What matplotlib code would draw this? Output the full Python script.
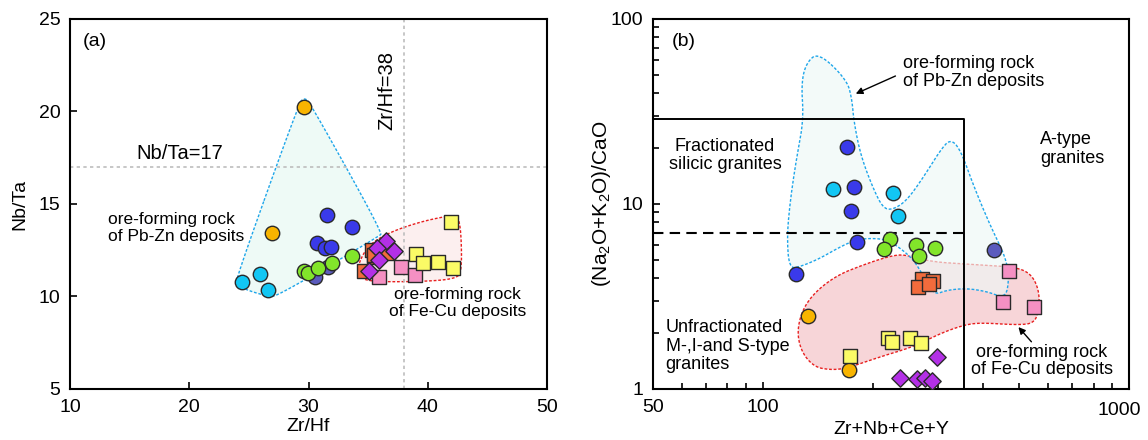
import numpy as np
import matplotlib
matplotlib.use("Agg")
import matplotlib.pyplot as plt

plt.rcParams['font.family'] = ['Liberation Sans', 'DejaVu Sans']
plt.rcParams['mathtext.default'] = 'regular'

# ---- panel (a): Zr/Hf vs Nb/Ta ----
orange_a_x = [29.65, 26.94]
orange_a_y = [20.26, 13.42]
blue_a_x = [31.52, 33.62, 30.69, 31.41, 31.89]
blue_a_y = [14.41, 13.77, 12.91, 12.60, 12.69]
slate_a_x = [30.55, 31.66]
slate_a_y = [11.07, 11.61]
cyan_a_x = [24.45, 25.93, 26.58]
cyan_a_y = [10.80, 11.22, 10.35]
green_a_x = [29.62, 29.98, 30.82, 31.99, 33.62]
green_a_y = [11.39, 11.25, 11.52, 11.79, 12.19]
ored_a_x = [35.29, 35.49, 35.5, 36.69, 34.65]
ored_a_y = [12.50, 12.12, 12.25, 12.37, 11.40]
pink_a_x = [35.94, 37.76, 38.96]
pink_a_y = [11.04, 11.58, 11.14]
yellow_a_x = [41.95, 38.99, 39.63, 40.83, 42.12]
yellow_a_y = [14.04, 12.30, 11.83, 11.88, 11.52]
magenta_a_x = [36.47, 35.77, 37.17, 35.88, 35.07]
magenta_a_y = [13.00, 12.60, 12.46, 11.97, 11.39]

pbzn_env_a = [(23.98, 11.07), (29.2, 20.45), (29.65, 20.75), (30.15, 20.45),
              (36.2, 13.45), (35.9, 13.25), (27.47, 10.05), (26.63, 10.0),
              (24.8, 10.35), (24.0, 10.65)]
fecu_env_a = [(34.04, 11.52), (34.88, 12.69), (36.56, 13.41), (39.35, 14.04),
              (42.14, 14.41), (42.56, 14.3), (42.8, 13.41), (42.85, 11.43),
              (42.43, 10.95), (39.35, 10.8), (35.16, 10.8), (34.26, 11.07)]

# ---- panel (b): Zr+Nb+Ce+Y vs (Na2O+K2O)/CaO ----
blue_b_x = [169.8, 177.4, 174.4, 181.2, 123.1]
blue_b_y = [20.25, 12.4, 9.2, 6.21, 4.2]
slate_b_x = [428.8]
slate_b_y = [5.62]
cyan_b_x = [155.6, 226.9, 234.6]
cyan_b_y = [12.0, 11.42, 8.65]
green_b_x = [222.6, 214.4, 261.2, 266.7, 294.3]
green_b_y = [6.5, 5.71, 5.98, 5.24, 5.81]
orange_b_x = [133.0, 172.2]
orange_b_y = [2.47, 1.267]
ored_b_x = [272.4, 292.0, 265.6, 284.0]
ored_b_y = [3.92, 3.82, 3.57, 3.68]
pink_b_x = [471.3, 451.8, 550.0]
pink_b_y = [4.36, 2.95, 2.77]
yellow_b_x = [172.6, 219.9, 224.9, 252.4, 270.0]
yellow_b_y = [1.508, 1.887, 1.80, 1.88, 1.773]
magenta_b_x = [299.3, 236.6, 263.9, 276.9, 290.0]
magenta_b_y = [1.495, 1.142, 1.13, 1.151, 1.109]

pbzn_env_b = [(141.9, 66.0), (169.8, 46.8), (175.2, 36.5), (177, 28.4), (184.7, 18.4),
              (200.8, 11.9), (213.8, 9.40), (227.8, 9.36), (247.8, 10.5), (275.1, 14.05),
              (305.6, 19.6), (325.6, 22.5), (346.7, 19.6), (377, 12.4), (419, 7.54),
              (455.4, 5.41), (470, 4.22), (465, 3.29), (446, 3.155), (410, 3.36),
              (361.7, 3.50), (318.9, 3.43), (293, 3.22), (275.1, 4.05), (258.3, 4.98),
              (237.6, 5.76), (218.5, 6.39), (200.8, 6.53), (180.8, 6.44), (162.8, 5.88),
              (143.5, 5.09), (126.5, 4.58), (118, 4.49), (116.3, 6.66), (118.8, 10.5),
              (123.3, 17.3), (129.2, 28.4), (127.3, 44.9), (131.4, 58.0)]
fecu_env_b = [(123.9, 2.172), (132, 3.03), (156, 4.05), (192.6, 4.78), (227.8, 5.30),
              (247.8, 5.30), (287, 4.88), (354, 4.74), (485, 4.58), (539, 4.22),
              (568, 3.43), (568, 2.67), (550, 2.265), (495.6, 2.218), (393, 2.283),
              (354, 2.218), (305.6, 2.0), (258.3, 1.693), (209.4, 1.495), (169.8, 1.294),
              (152.8, 1.267), (137.5, 1.32), (126.5, 1.625)]

box_x = 354
box_top = 28.7
dash_y = 7.0

C_ORANGE = '#f8b400'
C_BLUE = '#3a3aea'
C_SLATE = '#5b5bbd'
C_CYAN = '#12c6f3'
C_GREEN = '#82e52a'
C_ORED = '#f26b3c'
C_PINK = '#f590c3'
C_YELLOW = '#fbfb66'
C_MAG = '#b330e6'
EDGE = '#2a2a2a'


def chaikin(pts, n=3, log=False):
    p = np.asarray(pts, float)
    if log:
        p = np.log10(p)
    for _ in range(n):
        q = np.roll(p, -1, axis=0)
        new = np.empty((2 * len(p), 2))
        new[0::2] = 0.75 * p + 0.25 * q
        new[1::2] = 0.25 * p + 0.75 * q
        p = new
    p = np.vstack([p, p[:1]])
    if log:
        p = 10 ** p
    return p


def envelope(ax, pts, face, edge, alpha=1.0, log=False, z=1):
    c = chaikin(pts, 3, log)
    ax.fill(c[:, 0], c[:, 1], color=face, alpha=alpha, lw=0, zorder=z)
    ax.plot(c[:, 0], c[:, 1], color=edge, lw=1.0, ls=(0, (2, 1.3)), zorder=z + 0.1)


def dots(ax, x, y, color, marker='o', s=108):
    ax.scatter(x, y, s=s, c=color, marker=marker, edgecolors=EDGE, linewidths=1.0, zorder=5)


def style(ax):
    for sp in ax.spines.values():
        sp.set_linewidth(1.5)
    ax.tick_params(which='both', direction='in', labelsize=14, width=1.2)
    ax.tick_params(which='major', length=5, pad=7)
    ax.tick_params(which='minor', length=4)


fig = plt.figure(figsize=(11.48, 4.4), dpi=100)
ax1 = fig.add_axes([0.06098, 0.11591, 0.41551, 0.84091])
ax2 = fig.add_axes([0.56855, 0.11591, 0.41490, 0.84091])

# panel (a)
envelope(ax1, pbzn_env_a, '#eefaf6', '#1ea6ea', z=1)
envelope(ax1, fecu_env_a, '#fcefef', '#e82020', z=1.5)
ax1.axhline(17, color='#bdbdbd', lw=1.2, ls=(0, (2, 2)), zorder=2)
ax1.axvline(38, color='#bdbdbd', lw=1.2, ls=(0, (2, 2)), zorder=2)

dots(ax1, cyan_a_x, cyan_a_y, C_CYAN)
dots(ax1, slate_a_x, slate_a_y, C_SLATE)
dots(ax1, green_a_x, green_a_y, C_GREEN)
dots(ax1, blue_a_x, blue_a_y, C_BLUE)
dots(ax1, orange_a_x, orange_a_y, C_ORANGE)
dots(ax1, ored_a_x, ored_a_y, C_ORED, 's', 100)
dots(ax1, pink_a_x, pink_a_y, C_PINK, 's', 100)
dots(ax1, yellow_a_x, yellow_a_y, C_YELLOW, 's', 100)
dots(ax1, magenta_a_x, magenta_a_y, C_MAG, 'D', 78)

ax1.set_xlim(10, 50)
ax1.set_ylim(5, 25)
ax1.set_xticks(range(10, 51, 10))
ax1.set_yticks(range(5, 26, 5))
style(ax1)
ax1.set_xlabel('Zr/Hf', fontsize=14)
ax1.set_ylabel('Nb/Ta', fontsize=14)
ax1.xaxis.set_label_coords(0.5, -0.101)
ax1.xaxis.label.set_va('center')
ax1.yaxis.set_label_coords(-0.105, 0.5)
ax1.yaxis.label.set_va('center')

ax1.text(0.027, 0.938, '(a)', transform=ax1.transAxes, fontsize=14, va='center')
ax1.text(15.6, 17.75, 'Nb/Ta=17', fontsize=14.5, va='center')
ax1.text(36.56, 21.16, 'Zr/Hf=38', fontsize=14.5, va='center', ha='center', rotation=90)
ax1.text(13.16, 13.7, 'ore-forming rock\nof Pb-Zn deposits', fontsize=12.5,
         va='center', linespacing=1.1)
ax1.text(42.5, 9.65, 'ore-forming rock\nof Fe-Cu deposits', fontsize=12.5,
         va='center', ha='center', linespacing=1.1)

# panel (b)
ax2.set_xscale('log')
ax2.set_yscale('log')
envelope(ax2, fecu_env_b, '#f7d5d8', '#e82020', log=True, z=1)
envelope(ax2, pbzn_env_b, '#eef8f6', '#1ea6ea', alpha=0.65, log=True, z=1.5)
ax2.plot([50, box_x, box_x], [box_top, box_top, 1], color='black', lw=1.4, zorder=3)
ax2.plot([50, box_x], [dash_y, dash_y], color='black', lw=1.5, ls=(0, (5, 3)), zorder=3)

dots(ax2, blue_b_x, blue_b_y, C_BLUE)
dots(ax2, slate_b_x, slate_b_y, C_SLATE)
dots(ax2, cyan_b_x, cyan_b_y, C_CYAN)
dots(ax2, green_b_x, green_b_y, C_GREEN)
dots(ax2, orange_b_x, orange_b_y, C_ORANGE)
dots(ax2, ored_b_x, ored_b_y, C_ORED, 's', 100)
dots(ax2, pink_b_x, pink_b_y, C_PINK, 's', 100)
dots(ax2, yellow_b_x, yellow_b_y, C_YELLOW, 's', 100)
dots(ax2, magenta_b_x, magenta_b_y, C_MAG, 'D', 78)

ax2.set_xlim(50, 1000)
ax2.set_ylim(1, 100)
ax2.set_xticks([50, 100, 1000])
ax2.set_xticklabels(['50', '100', ''])
ax2.set_xticks([60, 70, 80, 90] + list(range(200, 1000, 100)), minor=True)
ax2.set_yticks([1, 10, 100])
ax2.set_yticklabels(['1', '10', '100'])
ax2.set_yticks(list(range(2, 10)) + list(range(20, 100, 10)), minor=True)
ax2.xaxis.set_minor_formatter(matplotlib.ticker.NullFormatter())
ax2.yaxis.set_minor_formatter(matplotlib.ticker.NullFormatter())
style(ax2)
# last x tick label nudged left so it stays inside the figure
ax2.annotate('1000', xy=(1000, 1), xycoords='data', xytext=(-7, -9.5),
             textcoords='offset points', ha='center', va='top', fontsize=14)
ax2.set_xlabel('Zr+Nb+Ce+Y', fontsize=14)
ax2.set_ylabel('(Na$_2$O+K$_2$O)/CaO', fontsize=15)
ax2.xaxis.set_label_coords(0.5, -0.109)
ax2.xaxis.label.set_va('center')
ax2.yaxis.set_label_coords(-0.1065, 0.5)
ax2.yaxis.label.set_va('center')

ax2.text(0.04, 0.938, '(b)', transform=ax2.transAxes, fontsize=14, va='center')
ax2.text(0.525, 0.855, 'ore-forming rock\nof Pb-Zn deposits', transform=ax2.transAxes,
         fontsize=13, va='center', linespacing=1.1)
ax2.annotate('', xy=(0.421, 0.795), xytext=(0.515, 0.849), xycoords='axes fraction',
             arrowprops=dict(arrowstyle='-|>', color='black', lw=1.0, mutation_scale=10))
ax2.text(0.8136, 0.6486, 'A-type\ngranites', transform=ax2.transAxes, fontsize=13,
         va='center', linespacing=1.1)
ax2.text(0.1518, 0.631, 'Fractionated\nsilicic granites', transform=ax2.transAxes,
         fontsize=13, va='center', ha='center', linespacing=1.1)
ax2.text(0.0273, 0.116, 'Unfractionated\nM-,I-and S-type\ngranites', transform=ax2.transAxes,
         fontsize=13, va='center', linespacing=1.1)
ax2.text(0.8173, 0.0757, 'ore-forming rock\nof Fe-Cu deposits', transform=ax2.transAxes,
         fontsize=13, va='center', ha='center', linespacing=1.05)
ax2.annotate('', xy=(0.764, 0.173), xytext=(0.799, 0.122), xycoords='axes fraction',
             arrowprops=dict(arrowstyle='-|>', color='black', lw=1.0, mutation_scale=10))

fig.savefig('out.png', dpi=100)
